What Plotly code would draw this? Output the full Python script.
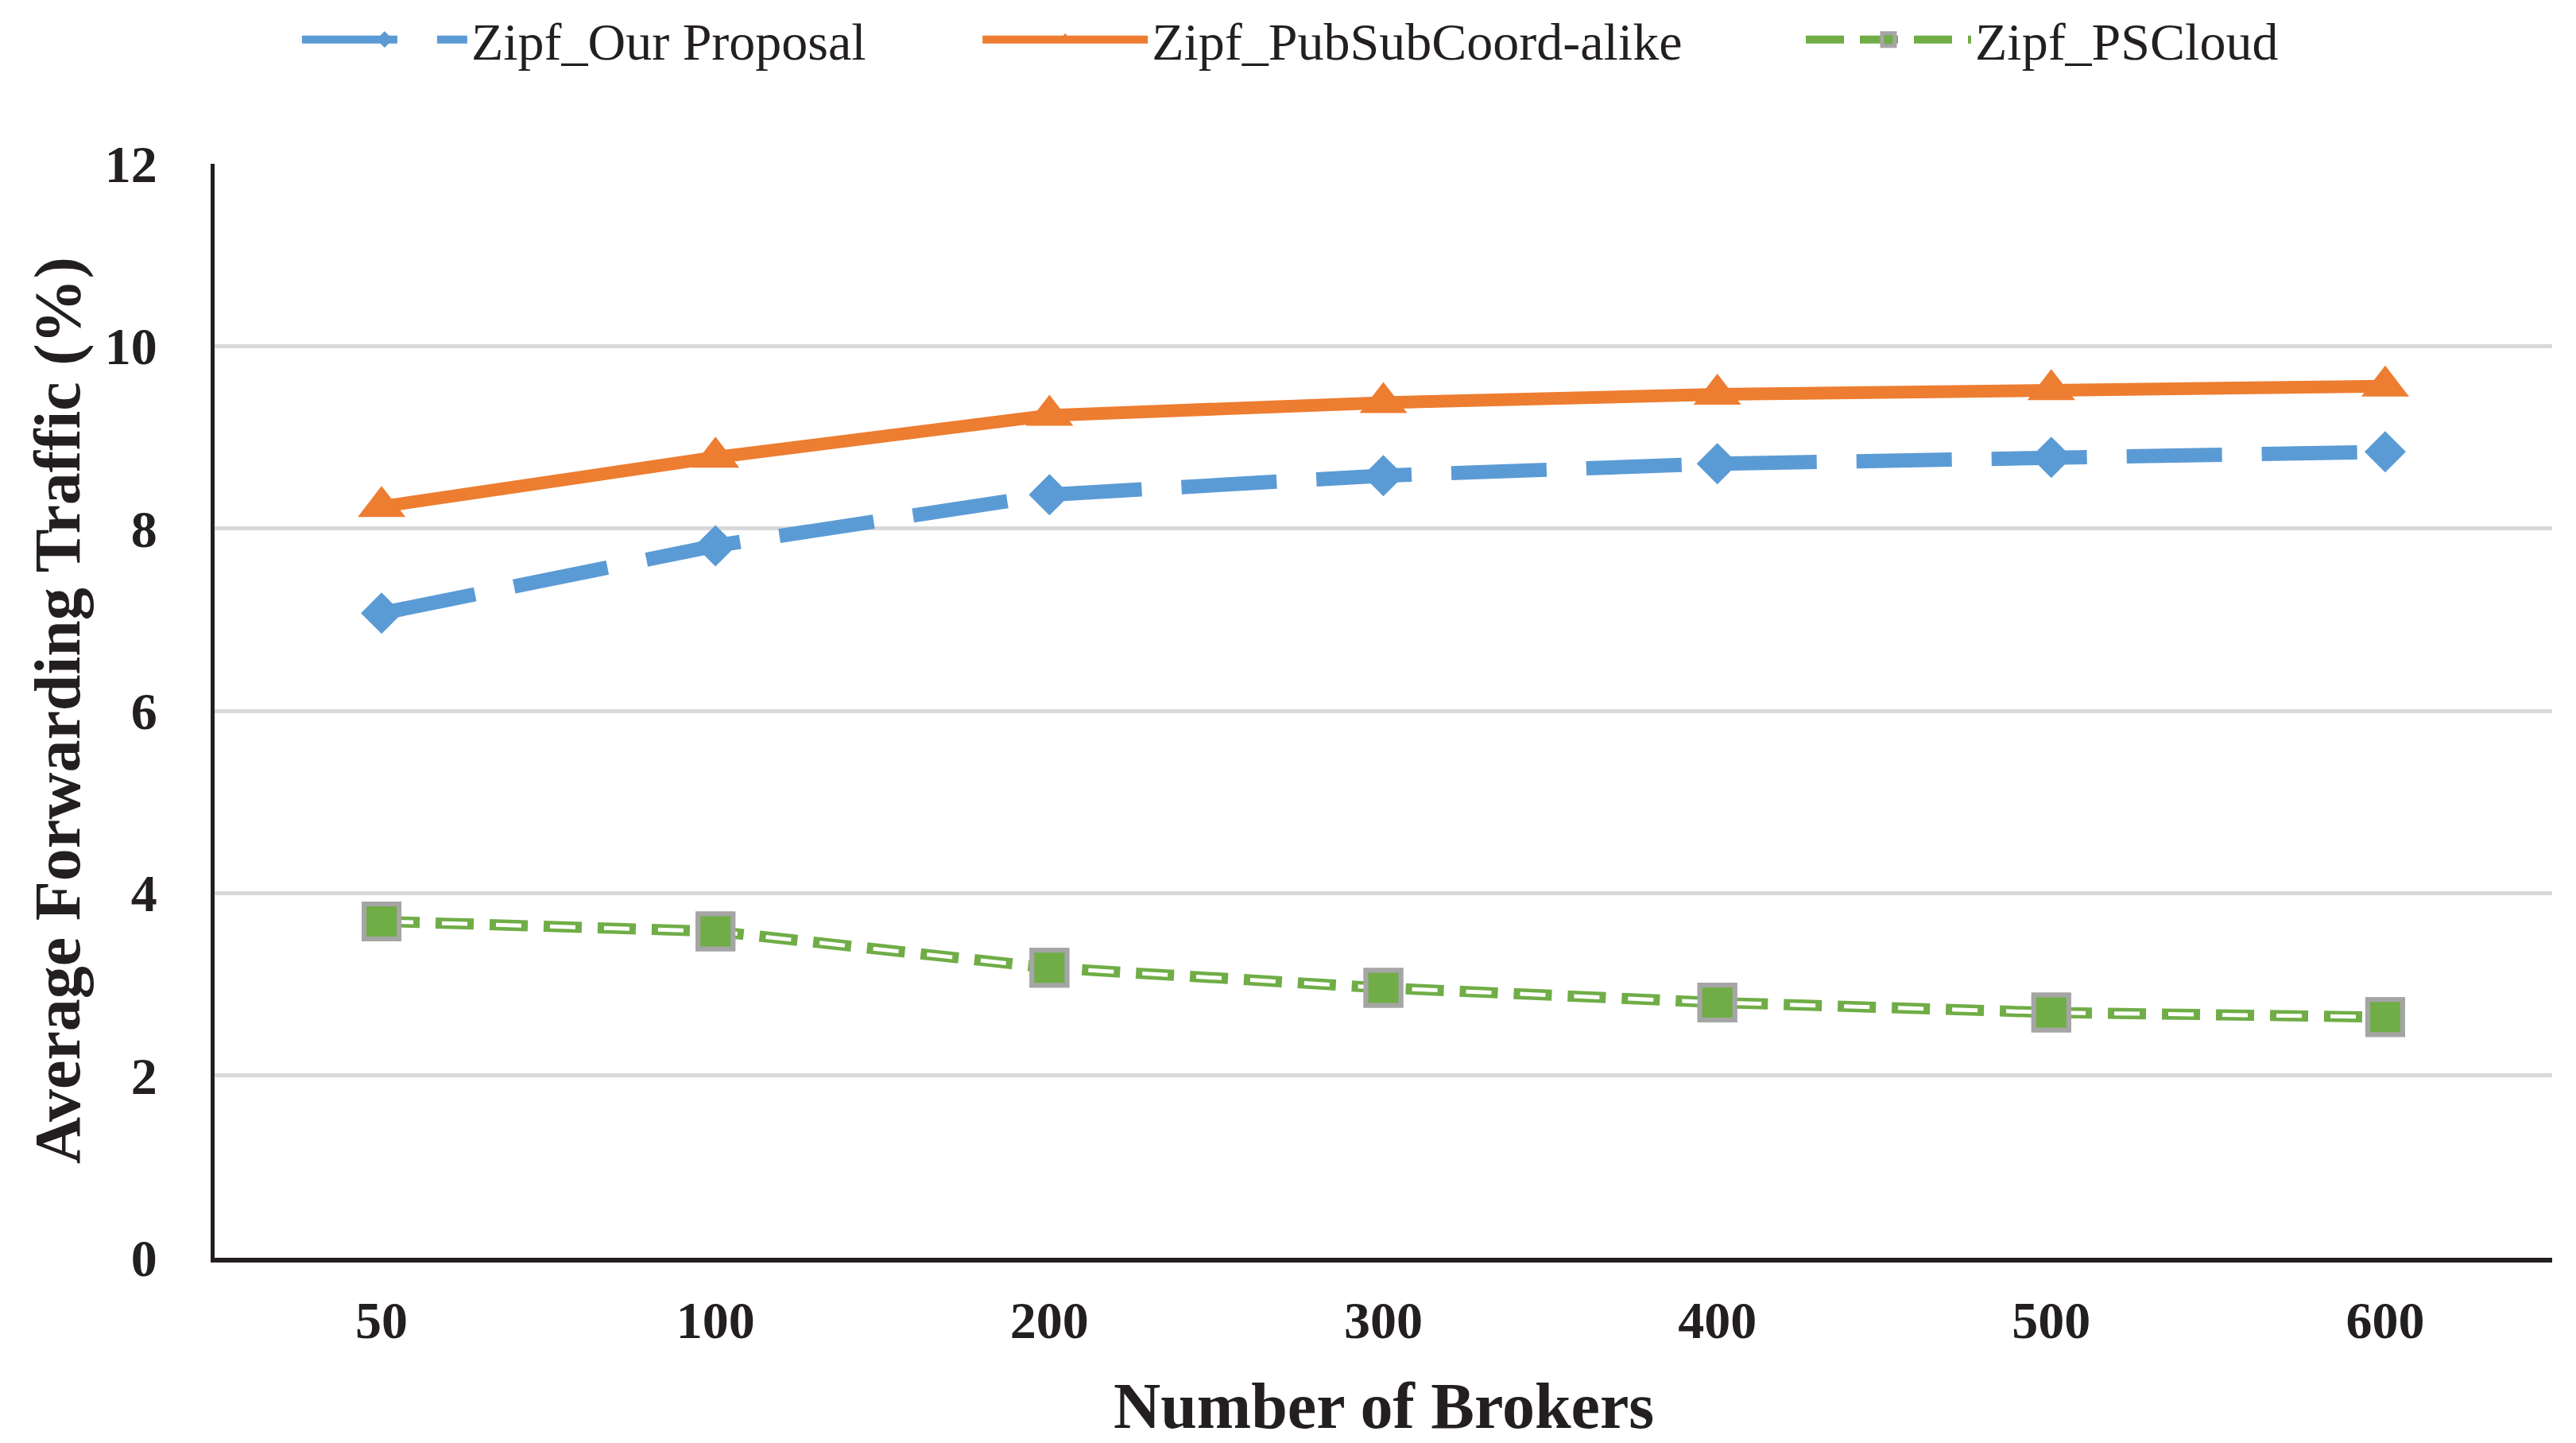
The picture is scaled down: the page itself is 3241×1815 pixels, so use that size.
import plotly.graph_objects as go

categories = ["50", "100", "200", "300", "400", "500", "600"]
our_proposal = [7.07, 7.81, 8.37, 8.58, 8.71, 8.78, 8.84]
pubsubcoord = [8.24, 8.78, 9.24, 9.38, 9.47, 9.52, 9.56]
pscloud = [3.69, 3.58, 3.18, 2.96, 2.80, 2.69, 2.64]

BLUE = "#5B9BD5"
ORANGE = "#ED7D31"
GREEN = "#70AD47"
GRAY = "#A5A5A5"
INK = "#231F20"
FONT = "Liberation Serif"

fig = go.Figure()

fig.add_trace(go.Scatter(
    x=categories, y=our_proposal, name="Zipf_Our Proposal", mode="lines+markers",
    line=dict(color=BLUE, width=18, dash="120px,50px"),
    marker=dict(symbol="diamond", size=40, color=BLUE), legend="legend",
))
fig.add_trace(go.Scatter(
    x=categories, y=pubsubcoord, name="Zipf_PubSubCoord-alike", mode="lines+markers",
    line=dict(color=ORANGE, width=16),
    marker=dict(symbol="triangle-up", size=52, color=ORANGE), legend="legend2",
))
fig.add_trace(go.Scatter(
    x=categories, y=pscloud, name="Zipf_PSCloud", mode="lines+markers",
    line=dict(color=GREEN, width=14, dash="48px,20px"),
    marker=dict(symbol="square", size=44, color=GREEN, line=dict(color=GRAY, width=6)),
    legend="legend3",
))
fig.add_trace(go.Scatter(
    x=categories, y=pscloud, mode="lines", showlegend=False, hoverinfo="skip",
    line=dict(color="white", width=5, dash="0px,8px,32px,28px"),
))
fig.add_trace(go.Scatter(
    x=categories, y=pscloud, mode="markers", showlegend=False, hoverinfo="skip",
    marker=dict(symbol="square", size=44, color=GREEN, line=dict(color=GRAY, width=6)),
))

def legend_box(xpos):
    return dict(
        orientation="h", x=xpos, xanchor="left", xref="container",
        y=0.977, yanchor="middle", yref="container",
        font=dict(family=FONT, size=66, color=INK),
        itemwidth=208, bgcolor="rgba(0,0,0,0)",
    )

fig.update_layout(
    width=3241, height=1815,
    margin=dict(l=262, r=38, t=198, b=241),
    paper_bgcolor="white", plot_bgcolor="white",
    font=dict(family=FONT, color=INK),
    legend=legend_box(0.1132),
    legend2=legend_box(0.3774),
    legend3=legend_box(0.6970),
    showlegend=True,
    annotations=[
        dict(text="<b>Number of Brokers</b>", xref="paper", yref="paper",
             x=0.5, y=-0.1352, xanchor="center", yanchor="middle", showarrow=False,
             font=dict(family=FONT, size=82, color=INK)),
        dict(text="<b>Average Forwarding Traffic (%)</b>", xref="paper", yref="paper",
             x=-0.0673, y=0.5, xanchor="center", yanchor="middle", showarrow=False,
             textangle=-90, font=dict(family=FONT, size=82, color=INK)),
    ],
)

fig.update_xaxes(
    type="category", range=[-0.5, 6.5],
    showline=True, linecolor=INK, linewidth=6,
    showgrid=False, zeroline=False, ticks="",
    tickfont=dict(family=FONT, size=66, color=INK, weight="bold"),
    ticklabelstandoff=16,
)
fig.update_yaxes(
    range=[0, 12], dtick=2,
    showline=True, linecolor=INK, linewidth=5,
    showgrid=True, gridcolor="#D9D9D9", gridwidth=5,
    zeroline=False, ticks="",
    tickfont=dict(family=FONT, size=66, color=INK, weight="bold"),
    ticklabelstandoff=54,
)

fig.write_html("out.html")
